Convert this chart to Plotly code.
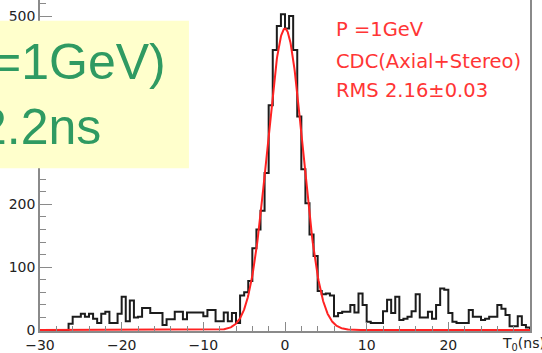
import numpy as np
import plotly.graph_objects as go

# T0 histogram: 120 bins of 0.5 ns between -30 and 30 ns
T_MIN, T_MAX = -30.0, 30.0
COUNTS = [
    0, 0, 0, 0, 0, 0, 0, 10, 21, 21,
    26, 21, 26, 18, 11, 26, 29, 11, 11, 26,
    53, 14, 47, 20, 21, 35, 35, 27, 27, 27,
    8, 17, 17, 29, 29, 17, 28, 28, 28, 28,
    22, 32, 32, 14, 14, 28, 14, 27, 11, 55,
    60, 78, 130, 160, 190, 250, 358, 446, 484, 503,
    480, 500, 446, 340, 256, 202, 152, 118, 62, 57,
    58, 55, 22, 27, 29, 29, 40, 28, 58, 40,
    13, 11, 11, 11, 30, 48, 27, 53, 16, 18,
    21, 30, 57, 20, 20, 29, 18, 40, 66, 64,
    27, 13, 11, 11, 11, 32, 21, 21, 16, 18,
    21, 21, 40, 34, 24, 6, 6, 22, 8, 4,
]

# Gaussian fit parameters
FIT_AMPLITUDE = 480.0
FIT_MEAN = 0.0
FIT_SIGMA = 2.16
FIT_SIGMA_ERR = 0.03

X_TICKS = [-30, -20, -10, 0, 10, 20]
Y_TICKS = [0, 100, 200, 300, 400, 500]
Y_TICK_TEXT = ["0", "100", "200", "", "", "500"]

n_bins = len(COUNTS)
edges = np.linspace(T_MIN, T_MAX, n_bins + 1)

# outline of the histogram as a step line
step_x = [edges[0]] + list(edges[:-1]) + [edges[-1], edges[-1]]
step_y = [0] + COUNTS + [COUNTS[-1], 0]

t = np.linspace(T_MIN, T_MAX, 1201)
fit = FIT_AMPLITUDE * np.exp(-((t - FIT_MEAN) ** 2) / (2 * FIT_SIGMA ** 2))

AXIS_GRAY = "#8a8a8a"
TICK_FONT = dict(family="DejaVu Sans", size=14, color="#222222")

fig = go.Figure()
fig.add_trace(go.Scatter(
    x=step_x, y=step_y, mode="lines", line_shape="hv",
    line=dict(color="#1c1c1c", width=2), hoverinfo="skip", showlegend=False,
))
fig.add_trace(go.Scatter(
    x=t, y=fit, mode="lines",
    line=dict(color="#ff2222", width=2), hoverinfo="skip", showlegend=False,
))

fig.update_layout(
    width=542, height=353,
    margin=dict(l=40, r=12, t=0, b=22),
    paper_bgcolor="white", plot_bgcolor="white",
    xaxis=dict(
        range=[T_MIN, T_MAX], tickvals=X_TICKS, ticks="inside", ticklen=9,
        tickcolor=AXIS_GRAY, showline=True, linecolor=AXIS_GRAY, linewidth=1.5,
        showgrid=False, zeroline=False, tickfont=TICK_FONT,
        minor=dict(dtick=2, tick0=0, ticks="inside", ticklen=5,
                   tickcolor=AXIS_GRAY, showgrid=False),
    ),
    yaxis=dict(
        range=[-1.6, 525.5], tickvals=Y_TICKS, ticktext=Y_TICK_TEXT,
        ticks="inside", ticklen=12, tickcolor=AXIS_GRAY,
        showline=True, linecolor=AXIS_GRAY, linewidth=1.5, mirror=True,
        showgrid=False, zeroline=False, tickfont=TICK_FONT,
        minor=dict(dtick=20, tick0=0, ticks="inside", ticklen=6,
                   tickcolor=AXIS_GRAY, showgrid=False),
    ),
)

# yellow note box with the resolution summary
fig.add_shape(
    type="rect", xref="paper", yref="paper",
    x0=-0.0816, x1=0.304, y0=0.492, y1=0.937,
    fillcolor="#ffffcc", line=dict(width=0), layer="above",
)
GREEN_FONT = dict(family="Liberation Sans", size=50, color="#2f9a62")
fig.add_annotation(text="=1GeV)", xref="paper", yref="paper", x=0.261, y=0.813,
                   xanchor="right", yanchor="middle", showarrow=False, font=GREEN_FONT)
fig.add_annotation(text="2.2ns", xref="paper", yref="paper", x=0.129, y=0.617,
                   xanchor="right", yanchor="middle", showarrow=False, font=GREEN_FONT)

# fit legend in red
RED_FONT = dict(family="DejaVu Sans", size=19.5, color="#ff3535")
red_lines = [
    "P =1GeV",
    "CDC(Axial+Stereo)",
    f"RMS {FIT_SIGMA:.2f}\u00b1{FIT_SIGMA_ERR:.2f}",
]
for text, yp in zip(red_lines, [0.91, 0.813, 0.728]):
    fig.add_annotation(text=text, xref="paper", yref="paper", x=0.6, y=yp,
                       xanchor="left", yanchor="middle", showarrow=False, font=RED_FONT)

# x-axis title at the right end
fig.add_annotation(text="T<sub>0</sub>(ns)", xref="paper", yref="paper", x=0.939, y=0,
                   xanchor="left", yanchor="top", yshift=-2, showarrow=False, font=TICK_FONT)

fig.write_html("out.html")
